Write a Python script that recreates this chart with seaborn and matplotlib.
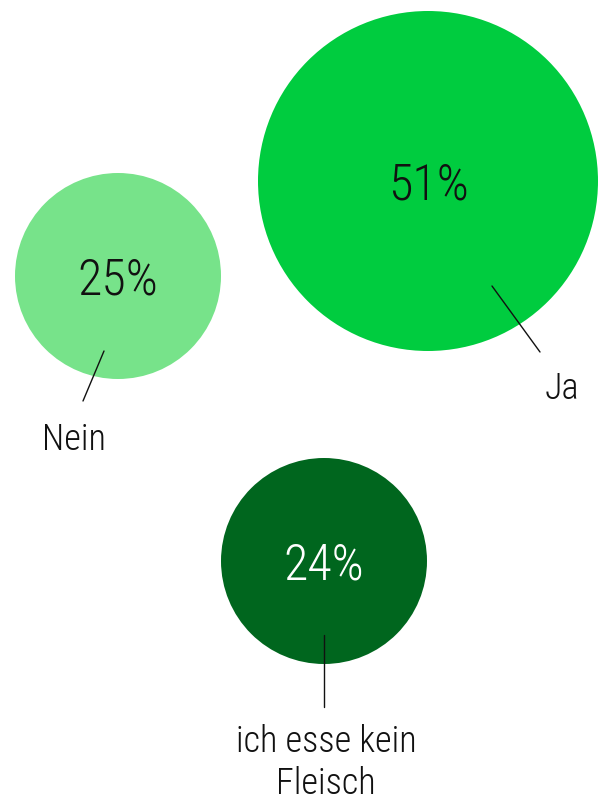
import matplotlib
matplotlib.use("Agg")
import matplotlib.pyplot as plt
import seaborn as sns
import pandas as pd
from matplotlib import font_manager

categories = ["Ja", "Nein", "ich esse kein\nFleisch"]
values = [51, 25, 24]
labels_pct = ["51%", "25%", "24%"]
colors = ["#00cc3f", "#77e38a", "#00661e"]
pct_colors = ["#111111", "#111111", "#ffffff"]

# layout (pixel coordinates in a 605x803 canvas)
cx = [428, 118, 324]
cy = [182, 277, 562]
radius_px = [170, 103, 103]
line_start = [(492, 287), (104, 352), (324, 636)]
line_end = [(540, 353), (83, 402), (324, 708)]
label_pos = [(562, 389), (74, 440), (326, 763)]

sns.set_theme(style="white")
avail = {f.name for f in font_manager.fontManager.ttflist}
fam = [f for f in ["Roboto Condensed", "Liberation Sans Narrow", "Roboto", "DejaVu Sans"] if f in avail]
plt.rcParams["font.family"] = fam

dpi = 100
fig = plt.figure(figsize=(6.05, 8.03), dpi=dpi)
ax = fig.add_axes([0, 0, 1, 1])

df = pd.DataFrame({"cat": categories, "value": values, "x": cx, "y": cy})
pt_per_px = 72 / dpi
sizes = {c: (2 * r * pt_per_px) ** 2 for c, r in zip(categories, radius_px)}
sns.scatterplot(data=df, x="x", y="y", hue="cat", size="cat",
                palette=dict(zip(categories, colors)), sizes=sizes,
                linewidth=0, legend=False, ax=ax, alpha=1)

for i in range(3):
    ax.text(cx[i], cy[i] + 4, labels_pct[i], ha="center", va="center",
            fontsize=36, color=pct_colors[i], fontweight="light")
    (x0, y0), (x1, y1) = line_start[i], line_end[i]
    ax.plot([x0, x1], [y0, y1], color="#111111", lw=1)
    ax.text(label_pos[i][0], label_pos[i][1], categories[i], ha="center",
            va="center", fontsize=26, color="#111111", linespacing=1.2,
            fontweight="light")

ax.set_xlim(0, 605)
ax.set_ylim(803, 0)
ax.axis("off")
fig.savefig("out.png", dpi=dpi)
